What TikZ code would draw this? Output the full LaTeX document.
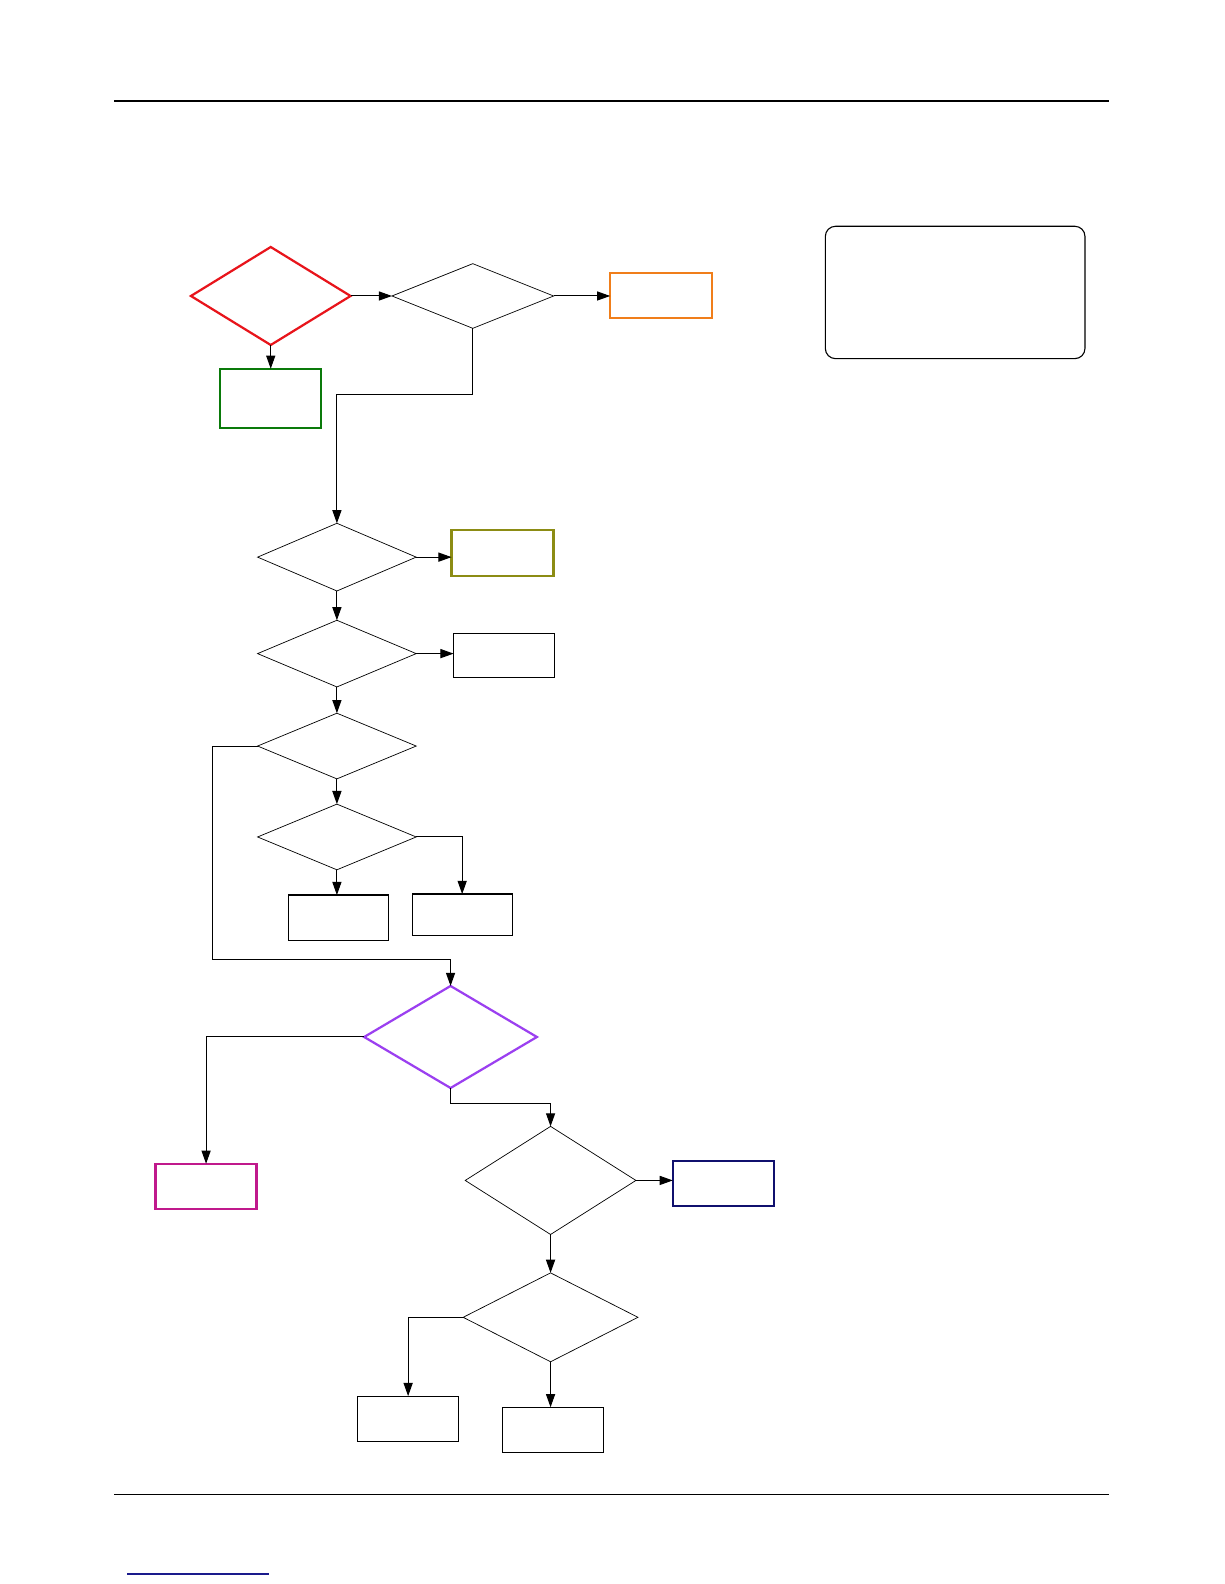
\documentclass[tikz,border=0pt]{standalone}
\usetikzlibrary{shapes.geometric,arrows.meta}
\definecolor{cred}{HTML}{E8141B}
\definecolor{cgreen}{HTML}{0A7A0A}
\definecolor{corange}{HTML}{F07E1A}
\definecolor{colive}{HTML}{8C8C14}
\definecolor{cpurple}{HTML}{9B3FF0}
\definecolor{cmagenta}{HTML}{C0198C}
\definecolor{cnavy}{HTML}{10106E}
\definecolor{cline}{HTML}{1A1A8C}
\begin{document}
\begin{tikzpicture}[x=1pt,y=-1pt,
  dia/.style={diamond, draw, inner sep=0pt, outer sep=0pt, line width=0.7pt},
  box/.style={rectangle, draw, inner sep=0pt, outer sep=0pt, line width=1.1pt},
  arr/.style={-{Triangle[length=13pt,width=9pt]}, line width=1pt},
  rule/.style={line width=1.2pt}]
\useasboundingbox[fill=white] (0,0) rectangle (1212,1568);
% page rules
\draw[rule] (113,100) -- (1098,100);
\draw[rule] (113,1479) -- (1098,1479);
\draw[line width=1.2pt, cline] (126,1558) -- (266,1558);
% nodes
\node[dia, draw=cred, line width=2.2pt, minimum width=158pt, minimum height=97pt] (red) at (268,293) {};
\node[dia, minimum width=160pt, minimum height=64pt] (d2) at (468,293) {};
\node[box, draw=corange, line width=2.2pt, minimum width=101pt, minimum height=45pt] (orange) at (654.5,292.5) {};
\node[box, draw=cgreen, line width=2.2pt, minimum width=100pt, minimum height=59pt] (green) at (268,394.5) {};
\node[rectangle, draw, rounded corners=10pt, line width=1.1pt, inner sep=0pt, minimum width=257pt, minimum height=131pt] (note) at (945.5,289.5) {};
\node[dia, minimum width=157pt, minimum height=67pt] (d3) at (333.5,551.5) {};
\node[box, draw=colive, line width=2.2pt, minimum width=101pt, minimum height=45pt] (olive) at (497.5,547.5) {};
\node[dia, minimum width=157pt, minimum height=66pt] (d4) at (333.5,647) {};
\node[box, minimum width=100pt, minimum height=44pt] (b4) at (499,649) {};
\node[dia, minimum width=157pt, minimum height=65pt] (d5) at (333.5,738.5) {};
\node[dia, minimum width=157pt, minimum height=65pt] (d6) at (333.5,828.5) {};
\node[box, minimum width=99pt, minimum height=45pt] (b6a) at (335.5,908.5) {};
\node[box, minimum width=99pt, minimum height=41pt] (b6b) at (457.5,905.5) {};
\node[dia, draw=cpurple, line width=2.2pt, minimum width=171pt, minimum height=101pt] (purple) at (446,1026.5) {};
\node[box, draw=cmagenta, line width=2.2pt, minimum width=100pt, minimum height=45pt] (magenta) at (204,1174.5) {};
\node[dia, minimum width=169pt, minimum height=107pt] (d7) at (545,1168.5) {};
\node[box, draw=cnavy, line width=2.2pt, minimum width=100pt, minimum height=45pt] (navy) at (716,1171.5) {};
\node[dia, minimum width=173pt, minimum height=88pt] (d8) at (545,1304) {};
\node[box, minimum width=100pt, minimum height=45pt] (b8a) at (404,1404.5) {};
\node[box, minimum width=100pt, minimum height=45pt] (b8b) at (547,1415.5) {};
% junctions
\coordinate (j1) at (333.5,391);
\coordinate (j2) at (210,950);
\coordinate (j3) at (446,1092);
% connectors
\draw[arr] (red.east) -- (d2.west);
\draw[arr] (d2.east) -- (d2.east -| orange.west);
\draw[arr] (red.south) -- (green.north);
\draw[arr] (d2.south) |- (j1) -- (d3.north);
\draw[arr] (d3.east) -- (d3.east -| olive.west);
\draw[arr] (d3.south) -- (d4.north);
\draw[arr] (d4.east) -- (d4.east -| b4.west);
\draw[arr] (d4.south) -- (d5.north);
\draw[arr] (d5.west) -| (j2) -| (purple.north);
\draw[arr] (d5.south) -- (d6.north);
\draw[arr] (d6.south) -- (d6.south |- b6a.north);
\draw[arr] (d6.east) -| (b6b.north);
\draw[arr] (purple.west) -| (magenta.north);
\draw[arr] (purple.south) -- (j3) -| (d7.north);
\draw[arr] (d7.east) -- (d7.east -| navy.west);
\draw[arr] (d7.south) -- (d8.north);
\draw[arr] (d8.west) -| (b8a.north);
\draw[arr] (d8.south) -- (d8.south |- b8b.north);
\end{tikzpicture}
\end{document}
